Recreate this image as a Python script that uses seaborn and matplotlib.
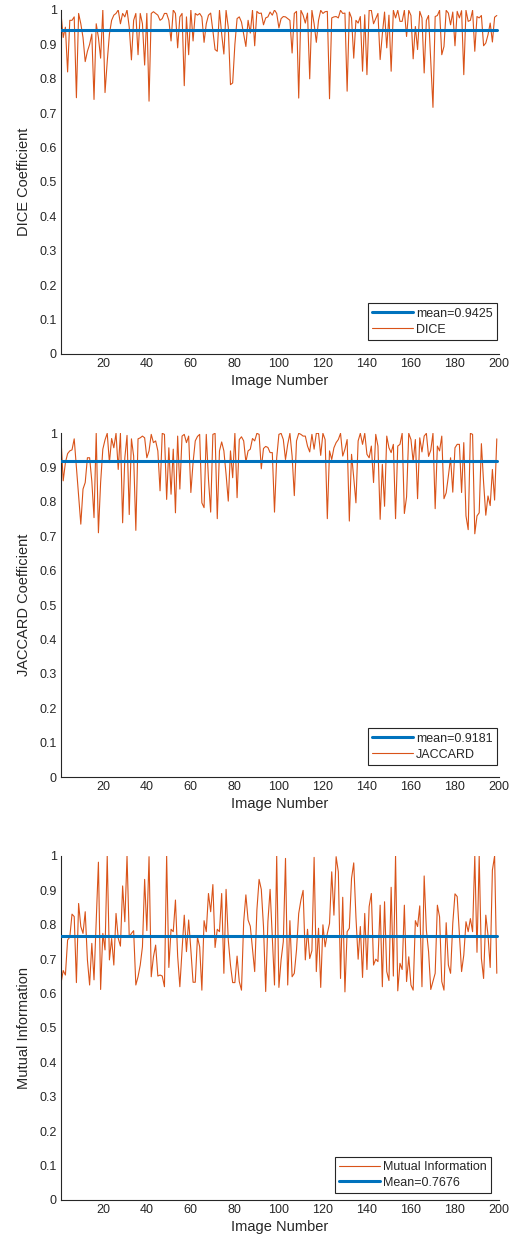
import numpy as np
import pandas as pd
import matplotlib
matplotlib.use('Agg')
import matplotlib.pyplot as plt
import seaborn as sns

# values (image 1..199)
dice = [0.99, 0.92, 0.95, 0.82, 0.97, 0.97, 0.98, 0.745, 0.99, 0.96,
        0.92, 0.85, 0.88, 0.90, 0.93, 0.74, 0.96, 0.92, 0.86, 1.00,
        0.76, 0.85, 0.93, 0.97, 0.985, 0.99, 1.00, 0.96, 0.99, 0.98,
        1.00, 0.95, 0.855, 0.97, 0.99, 0.87, 0.99, 0.96, 0.84, 0.99,
        0.735, 0.99, 0.995, 0.99, 0.985, 0.97, 0.975, 0.99, 0.99, 0.97,
        0.91, 1.00, 0.99, 0.89, 0.98, 0.99, 0.78, 0.98, 0.87, 1.00,
        0.91, 0.99, 0.985, 0.99, 0.98, 0.906, 0.96, 0.985, 0.991, 0.94,
        0.885, 0.88, 0.999, 0.93, 0.872, 0.999, 0.95, 0.783, 0.788, 0.90,
        0.975, 0.98, 0.965, 0.93, 0.894, 0.97, 0.933, 0.999, 0.896, 0.996,
        0.99, 0.991, 0.957, 0.977, 0.98, 0.994, 0.985, 1.0, 0.99, 0.948,
        0.975, 0.981, 0.98, 0.975, 0.97, 0.875, 0.99, 0.996, 0.744, 0.999,
        0.985, 0.962, 0.991, 0.80, 0.999, 0.96, 0.906, 0.97, 0.999, 0.99,
        0.995, 0.996, 0.742, 0.977, 0.98, 0.981, 0.977, 0.999, 0.99, 0.991,
        0.764, 0.994, 0.977, 0.86, 0.97, 0.962, 0.981, 0.822, 0.986, 0.812,
        0.999, 0.999, 0.96, 0.975, 0.99, 0.856, 0.93, 0.994, 0.89, 0.985,
        0.822, 0.999, 0.977, 0.999, 0.967, 0.967, 0.999, 0.923, 0.999, 0.984,
        0.858, 0.952, 0.885, 0.996, 0.977, 0.817, 0.97, 0.984, 0.85, 0.717,
        0.981, 0.984, 0.999, 0.87, 0.894, 0.999, 0.991, 0.957, 0.994, 0.896,
        0.996, 0.977, 0.998, 0.812, 0.999, 0.967, 0.97, 0.999, 0.88, 0.981,
        0.977, 0.984, 0.896, 0.904, 0.928, 0.962, 0.907, 0.979, 0.984]

jaccard = [0.983, 0.861, 0.914, 0.94, 0.948, 0.951, 0.983, 0.90, 0.82, 0.735,
           0.837, 0.856, 0.928, 0.928, 0.86, 0.754, 0.999, 0.71, 0.856, 0.953,
           0.98, 0.999, 0.914, 0.984, 0.957, 0.999, 0.894, 0.999, 0.739, 0.928,
           0.993, 0.763, 0.983, 0.933, 0.717, 0.983, 0.986, 0.991, 0.986, 0.928,
           0.948, 0.996, 0.972, 0.977, 0.948, 0.832, 0.999, 0.996, 0.807, 0.957,
           0.822, 0.953, 0.768, 0.991, 0.837, 0.991, 0.996, 0.972, 0.991, 0.827,
           0.914, 0.977, 0.99, 0.996, 0.797, 0.783, 0.996, 0.866, 0.77, 0.996,
           0.999, 0.751, 0.948, 0.974, 0.948, 0.88, 0.802, 0.948, 0.87, 0.999,
           0.812, 0.981, 0.989, 0.977, 0.916, 0.948, 0.953, 0.984, 0.977, 0.999,
           0.996, 0.896, 0.955, 0.961, 0.958, 0.943, 0.943, 0.77, 0.928, 0.996,
           0.999, 0.981, 0.923, 0.967, 0.999, 0.933, 0.818, 0.977, 0.999, 0.996,
           0.991, 0.991, 0.962, 0.945, 0.996, 0.953, 0.999, 0.999, 0.935, 0.999,
           0.981, 0.751, 0.948, 0.923, 0.957, 0.972, 0.981, 0.999, 0.933, 0.953,
           0.981, 0.744, 0.938, 0.87, 0.797, 0.977, 0.999, 0.967, 0.999, 0.938,
           0.928, 0.962, 0.856, 0.996, 0.962, 0.749, 0.909, 0.787, 0.991, 0.957,
           0.943, 0.967, 0.751, 0.962, 0.967, 0.999, 0.766, 0.814, 0.999, 0.981,
           0.916, 0.981, 0.809, 0.986, 0.945, 0.991, 0.999, 0.932, 0.950, 0.999,
           0.78, 0.962, 0.948, 0.991, 0.809, 0.826, 0.875, 0.928, 0.828, 0.957,
           0.967, 0.967, 0.827, 0.972, 0.759, 0.719, 0.999, 0.996, 0.707, 0.759,
           0.768, 0.969, 0.856, 0.761, 0.817, 0.789, 0.894, 0.805, 0.983]

mutual_info = [0.63, 0.667, 0.654, 0.756, 0.764, 0.831, 0.824, 0.632, 0.862, 0.795,
               0.775, 0.838, 0.698, 0.625, 0.746, 0.640, 0.81, 0.982, 0.612, 0.775,
               0.727, 1.0, 0.698, 0.76, 0.683, 0.833, 0.761, 0.738, 0.913, 0.809,
               1.0, 0.765, 0.775, 0.783, 0.625, 0.649, 0.683, 0.736, 0.932, 0.783,
               0.998, 0.649, 0.707, 0.741, 0.651, 0.654, 0.651, 0.62, 1.0, 0.676,
               0.787, 0.78, 0.872, 0.709, 0.62, 0.727, 0.828, 0.722, 0.814, 0.727,
               0.633, 0.633, 0.764, 0.736, 0.61, 0.812, 0.78, 0.891, 0.838, 0.917,
               0.734, 0.787, 0.78, 0.891, 0.659, 0.903, 0.756, 0.683, 0.632, 0.632,
               0.709, 0.635, 0.61, 0.809, 0.887, 0.814, 0.796, 0.731, 0.664, 0.843,
               0.932, 0.903, 0.795, 0.606, 0.809, 0.903, 0.765, 0.625, 1.0, 0.618,
               0.698, 0.751, 0.993, 0.625, 0.812, 0.649, 0.659, 0.727, 0.833, 0.872,
               0.9, 0.698, 0.787, 0.702, 0.725, 0.996, 0.664, 0.79, 0.618, 0.8,
               0.736, 0.775, 0.804, 0.954, 0.828, 0.998, 0.954, 0.644, 0.88, 0.605,
               0.78, 0.79, 0.935, 0.98, 0.823, 0.70, 0.795, 0.647, 0.833, 0.67,
               0.853, 0.891, 0.683, 0.70, 0.693, 0.857, 0.62, 0.867, 0.664, 0.638,
               0.909, 0.651, 1.0, 0.608, 0.688, 0.67, 0.857, 0.635, 0.707, 0.625,
               0.61, 0.812, 0.795, 0.855, 0.62, 0.942, 0.785, 0.722, 0.612, 0.635,
               0.659, 0.857, 0.823, 0.635, 0.61, 0.806, 0.683, 0.659, 0.804, 0.89,
               0.882, 0.775, 0.664, 0.712, 0.809, 0.78, 0.818, 0.78, 1.0, 0.72,
               1.0, 0.702, 0.644, 0.828, 0.77, 0.676, 0.959, 1.0, 0.659]

dice_mean = 0.9425
jaccard_mean = 0.9181
mi_mean = 0.7676

blue = '#0072BD'
orange = '#D95319'
ink = '#262626'

sns.set_style('white')
plt.rcParams['font.family'] = ['Liberation Sans', 'DejaVu Sans']

img = np.arange(1, len(dice) + 1)
df = pd.DataFrame({'img': img, 'dice': dice, 'jaccard': jaccard, 'mi': mutual_info})

fig = plt.figure(figsize=(5.14, 12.42), dpi=100)
left, width, height = 61 / 514, 438 / 514, 344 / 1242
bottoms = [(1242 - 354) / 1242, (1242 - 777) / 1242, (1242 - 1200) / 1242]

# column, mean, legend name, y label, mean label format, mean first, legend anchor
panels = [
    ('dice', dice_mean, 'DICE', 'DICE Coefficient', 'mean=%.4f', True, (0.995, 0.041)),
    ('jaccard', jaccard_mean, 'JACCARD', 'JACCARD Coefficient', 'mean=%.4f', True, (0.995, 0.035)),
    ('mi', mi_mean, 'Mutual Information', 'Mutual Information', 'Mean=%.4f', False, (0.982, 0.02)),
]

for (col, mval, name, ylabel, mfmt, mean_first, anchor), b in zip(panels, bottoms):
    ax = fig.add_axes([left, b, width, height])
    df['mean'] = mval

    def draw_mean():
        sns.lineplot(data=df, x='img', y='mean', ax=ax, color=blue, lw=2.2,
                     label=mfmt % mval, zorder=3)

    def draw_series():
        sns.lineplot(data=df, x='img', y=col, ax=ax, color=orange, lw=0.8,
                     label=name, zorder=2)

    if mean_first:
        draw_mean()
        draw_series()
    else:
        draw_series()
        draw_mean()

    ax.set_xlim(1, 200)
    ax.set_ylim(0, 1)
    ax.set_xticks(range(20, 201, 20))
    ax.set_yticks(np.arange(0, 1.01, 0.1))
    ax.set_yticklabels(['0'] + ['%.1f' % v for v in np.arange(0.1, 0.95, 0.1)] + ['1'])
    ax.tick_params(direction='in', length=4, width=0.8, color=ink,
                   labelsize=9, labelcolor=ink, pad=3)
    for s in ['top', 'right']:
        ax.spines[s].set_visible(False)
    for s in ['left', 'bottom']:
        ax.spines[s].set_color(ink)
        ax.spines[s].set_linewidth(0.8)
    ax.set_xlabel('Image Number', fontsize=10.5, color=ink, labelpad=3)
    ax.set_ylabel(ylabel, fontsize=10.5, color=ink, labelpad=6)
    leg = ax.legend(loc='lower right', bbox_to_anchor=anchor, borderaxespad=0,
                    fontsize=9, frameon=True, fancybox=False, edgecolor=ink,
                    framealpha=1, handlelength=3.3, borderpad=0.35,
                    labelspacing=0.3, handletextpad=0.2)
    leg.get_frame().set_linewidth(0.8)

fig.savefig('out.png', dpi=100, facecolor='white')
